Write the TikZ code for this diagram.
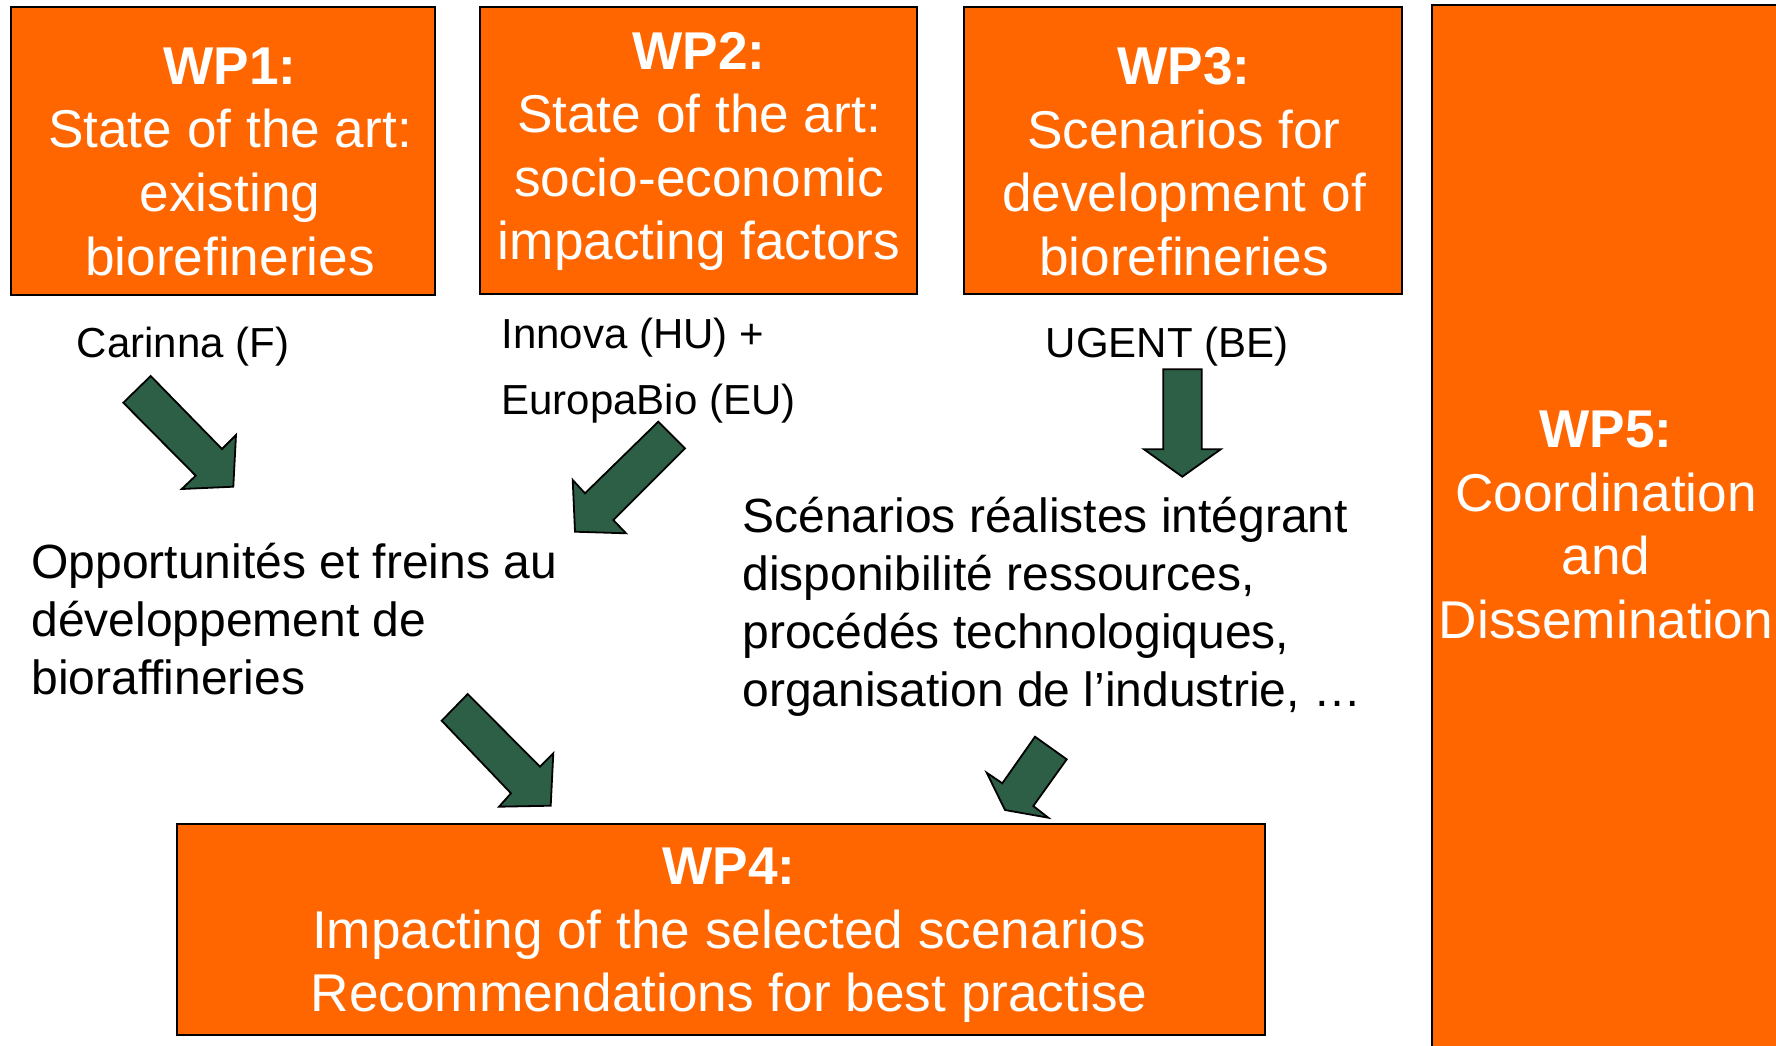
\documentclass[tikz,border=0pt]{standalone}
\usepackage{fontspec}
\setmainfont{Liberation Sans}
\definecolor{wporange}{RGB}{255,102,0}
\definecolor{arrowgreen}{RGB}{45,94,70}
\begin{document}
\begin{tikzpicture}[x=0.5pt,y=-0.5pt,
  wpbox/.style={draw=black, line width=1pt, fill=wporange, inner sep=0pt},
  wptext/.style={text=white, align=center, font=\fontsize{26.6}{31.8}\selectfont, inner sep=0pt},
  partner/.style={font=\fontsize{21}{33}\selectfont, inner sep=0pt, align=left},
  outcome/.style={font=\fontsize{24}{29}\selectfont, inner sep=0pt, align=left},
  blockarrow/.style={draw=black, line width=0.9pt, fill=arrowgreen, line join=miter}]
\useasboundingbox (0,0) rectangle (1776,1045);
\clip (0,0) rectangle (1776,1045);

% boxes
\node[wpbox, minimum width=212pt, minimum height=144pt] (wp1) at (223,151) {};
\node[wpbox, minimum width=218.5pt, minimum height=143.5pt] (wp2) at (698.5,150.5) {};
\node[wpbox, minimum width=219pt, minimum height=143.5pt] (wp3) at (1183,150.5) {};
\node[wpbox, minimum width=544pt, minimum height=105.5pt] (wp4) at (721,929.5) {};
\node[wpbox, minimum width=175pt, minimum height=530pt] (wp5) at (1607,535) {};

% box texts
\node[wptext] (wp1t) at (230,161.7) {\textbf{WP1:}\\State of the art:\\existing\\biorefineries};
\node[wptext] (wp2t) at (699,151.5) {\textbf{WP2:}\\State of the art:\\socio-economic\\impacting factors};
\node[wptext] (wp3t) at (1184,161.5) {\textbf{WP3:}\\Scenarios for\\development of\\biorefineries};
\node[wptext] (wp4t) at (729,935.4) {\textbf{WP4:}\\Impacting of the selected scenarios\\Recommendations for best practise};
\node[wptext] (wp5t) at (1606,525) {\textbf{WP5:}\\Coordination\\and\\Dissemination};

% partners
\node[partner] (p1) at (183,346.5) {Carinna (F)};
\node[partner, anchor=west] (p2) at (501,370.5) {Innova (HU) +\\EuropaBio (EU)};
\node[partner] (p3) at (1167,346.5) {UGENT (BE)};

% outcomes
\node[outcome, anchor=west] (o1) at (31,619) {Opportunités et freins au\\développement de\\bioraffineries};
\node[outcome, anchor=west] (o2) at (742,606.5) {Scénarios réalistes intégrant\\disponibilité ressources,\\procédés technologiques,\\organisation de l’industrie, …};

% block arrows
\draw[blockarrow] (150.7,376) -- (123.3,402.7) -- (195.7,475.7) -- (181.7,489) -- (233.3,486.7) -- (236,435) -- (222,449) -- cycle;
\draw[blockarrow] (658.3,421.7) -- (685,448.3) -- (613.3,520) -- (626,533.3) -- (575,531.7) -- (572.7,480) -- (585,493.3) -- cycle;
\draw[blockarrow] (1163.3,369.3) -- (1163.3,449.3) -- (1144,449.3) -- (1182.3,476.7) -- (1220.7,449.3) -- (1201.7,449.3) -- (1201.7,369.3) -- cycle;
\draw[blockarrow] (467.7,694) -- (441.7,720.7) -- (511,793.3) -- (499,806.7) -- (550.7,805.7) -- (553.3,753.3) -- (540,766.7) -- cycle;
\draw[blockarrow] (1035,736.7) -- (1066.7,759.3) -- (1033.3,806) -- (1048.3,817.7) -- (1005,810) -- (986.7,772.7) -- (1002.3,783.3) -- cycle;
\end{tikzpicture}
\end{document}
